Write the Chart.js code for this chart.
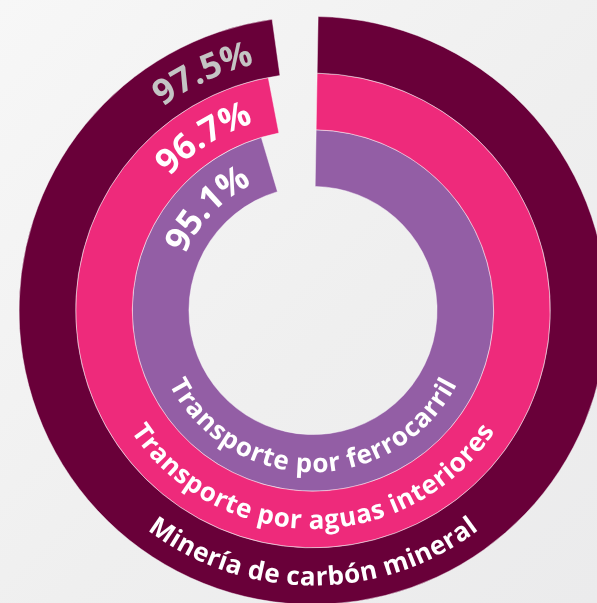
<!DOCTYPE html>
<html lang="es">
  <head>
    <meta charset="UTF-8" />
    <title>Anillos de porcentaje</title>
    <style>
      html,
      body {
        margin: 0;
        padding: 0;
        width: 597px;
        height: 603px;
        overflow: hidden;
      }
      body {
        background: linear-gradient(135deg, #f7f7f7 0%, #efefef 55%, #ebebec 100%);
      }
      canvas {
        position: absolute;
        left: 0;
        top: 0;
      }
    </style>
  </head>

  <body>
    <canvas id="anillos" width="626" height="621"></canvas>
    <script src="https://cdn.jsdelivr.net/npm/chart.js@4"></script>
    <script>
      // datos (de fuera hacia dentro)
      const sectores = [
        "Minería de carbón mineral",
        "Transporte por aguas interiores",
        "Transporte por ferrocarril",
      ];
      const porcentajes = [97.5, 96.7, 95.1];
      const etiquetas = ["97.5%", "96.7%", "95.1%"];

      const colores = ["#690039", "#ee2a7b", "#935ea5"];
      const coloresPct = ["#c4c4c4", "#ffffff", "#ffffff"];

      const FUENTE = '"Open Sans", "DejaVu Sans", sans-serif';

      // escribe texto siguiendo un arco; dir = 1 sentido horario, -1 antihorario
      function textoEnArco(ctx, texto, cx, cy, rBase, rPaso, inicio, dir, espacio) {
        let a = inicio;
        for (const ch of texto) {
          const w = ctx.measureText(ch).width + espacio;
          const ac = a + (dir * w) / 2 / rPaso;
          ctx.save();
          ctx.translate(cx + rBase * Math.cos(ac), cy + rBase * Math.sin(ac));
          ctx.rotate(ac + (dir * Math.PI) / 2);
          ctx.fillText(ch, 0, 0);
          ctx.restore();
          a += (dir * w) / rPaso;
        }
      }

      function anchoTexto(ctx, texto, espacio) {
        let t = 0;
        for (const ch of texto) t += ctx.measureText(ch).width + espacio;
        return t;
      }

      const textoCurvo = {
        id: "textoCurvo",
        afterDatasetsDraw(chart) {
          const ctx = chart.ctx;
          ctx.save();
          ctx.textAlign = "center";
          ctx.textBaseline = "alphabetic";
          chart.data.datasets.forEach((ds, i) => {
            const arc = chart.getDatasetMeta(i).data[0];
            const { x, y, innerRadius, outerRadius, endAngle } = arc.getProps([
              "x",
              "y",
              "innerRadius",
              "outerRadius",
              "endAngle",
            ]);
            const medio = (innerRadius + outerRadius) / 2;

            // porcentaje junto al final del arco
            const tPct = 35;
            ctx.font = "bold " + tPct + "px " + FUENTE;
            ctx.fillStyle = coloresPct[i];
            const espPct = 1;
            const wPct = anchoTexto(ctx, etiquetas[i], espPct);
            const finPct = endAngle - 25 / medio;
            textoEnArco(ctx, etiquetas[i], x, y, medio - 0.36 * tPct, medio, finPct - wPct / medio, 1, espPct);

            // nombre del sector en la parte inferior
            const tNom = 26;
            ctx.font = "bold " + tNom + "px " + FUENTE;
            ctx.fillStyle = "#ffffff";
            const wNom = anchoTexto(ctx, ds.label, 0);
            textoEnArco(ctx, ds.label, x, y, medio + 0.36 * tNom, medio, Math.PI / 2 + wNom / 2 / medio, -1, 0);
          });
          ctx.restore();
        },
      };

      function dibujar() {
        const ctx = document.getElementById("anillos").getContext("2d");
        new Chart(ctx, {
          type: "doughnut",
          data: {
            labels: ["valor", "resto"],
            datasets: sectores.map((nombre, i) => ({
              label: nombre,
              data: [porcentajes[i], 100 - porcentajes[i]],
              backgroundColor: [colores[i], "rgba(0,0,0,0)"],
              borderColor: ["rgba(255,255,255,0.45)", "rgba(0,0,0,0)"],
              borderWidth: 1,
            })),
          },
          options: {
            responsive: false,
            animation: false,
            events: [],
            radius: 294,
            cutout: "42.2%",
            rotation: 1,
            plugins: {
              legend: { display: false },
              tooltip: { enabled: false },
            },
          },
          plugins: [textoCurvo],
        });
      }

      if (document.fonts && document.fonts.load) {
        Promise.all([
          document.fonts.load('bold 26px "Open Sans"'),
          document.fonts.load('bold 35px "Open Sans"'),
        ]).then(dibujar, dibujar);
      } else {
        dibujar();
      }
    </script>
  </body>
</html>
